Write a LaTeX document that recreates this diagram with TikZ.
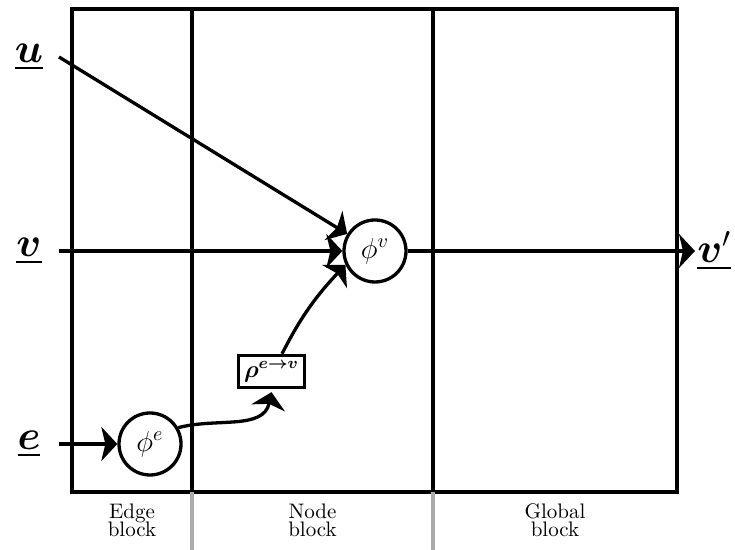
\documentclass[tikz,border=0pt]{standalone}
\usepackage{amsmath}
\usetikzlibrary{arrows.meta}
\begin{document}
\begin{tikzpicture}[x=0.5pt,y=0.5pt,
  thk/.style={line width=1.65pt},
  arr/.style={thk,-{Stealth[length=8pt,width=17pt,inset=2pt]}},
  circ/.style={circle,draw,thk,minimum size=31pt,inner sep=0pt,font=\Large},
  aggbox/.style={draw,thk,minimum width=33pt,minimum height=16pt,inner sep=1pt,font=\large},
  lbl/.style={font=\huge,inner sep=0pt},
  blk/.style={align=center,font=\fontsize{10.5}{12}\selectfont}]
\useasboundingbox (0,0) rectangle (735,550);
% grid
\draw[thk] (72,58) rectangle (677,541);
\draw[thk] (192,58) -- (192,541);
\draw[thk] (433,58) -- (433,541);
\draw[line width=1.65pt,gray!65] (192,58) -- (192,0);
\draw[line width=1.65pt,gray!65] (433,58) -- (433,0);
% block labels
\node[blk] (eb) at (132,30) {Edge\\[-3pt]block};
\node[blk] (nb) at (312.5,30) {Node\\[-3pt]block};
\node[blk] (gb) at (555,30) {Global\\[-3pt]block};
% nodes
\node[circ] (phiv) at (375,299) {$\phi^v$};
\node[circ] (phie) at (150,106) {$\phi^e$};
\node[aggbox] (rho) at (271.5,178.5) {$\boldsymbol{\rho^{e\rightarrow v}}$};
% input labels
\node[lbl] (ul) at (29,493) {$\underline{\boldsymbol{u}}$};
\node[lbl] (vl) at (29,299) {$\underline{\boldsymbol{v}}$};
\node[lbl] (el) at (29,106) {$\underline{\boldsymbol{e}}$};
\coordinate (us) at (59,493);
\coordinate (vs) at (59,299);
\coordinate (es) at (59,106);
\coordinate (vpe) at (695,299);
\node[lbl,anchor=west] (vpl) at (697,299) {$\underline{\boldsymbol{v}'}$};
% connectors
\draw[arr] (us) -- (phiv);
\draw[arr] (vs) -- (phiv);
\draw[arr] (es) -- (phie);
\draw[arr] (phiv) -- (vpe);
\draw[arr] (phie.30) to[out=15,in=258] ([yshift=-1.5pt]rho.south);
\draw[arr] ([xshift=5.25pt]rho.north) to[out=63,in=227] (phiv.205);
\end{tikzpicture}
\end{document}
